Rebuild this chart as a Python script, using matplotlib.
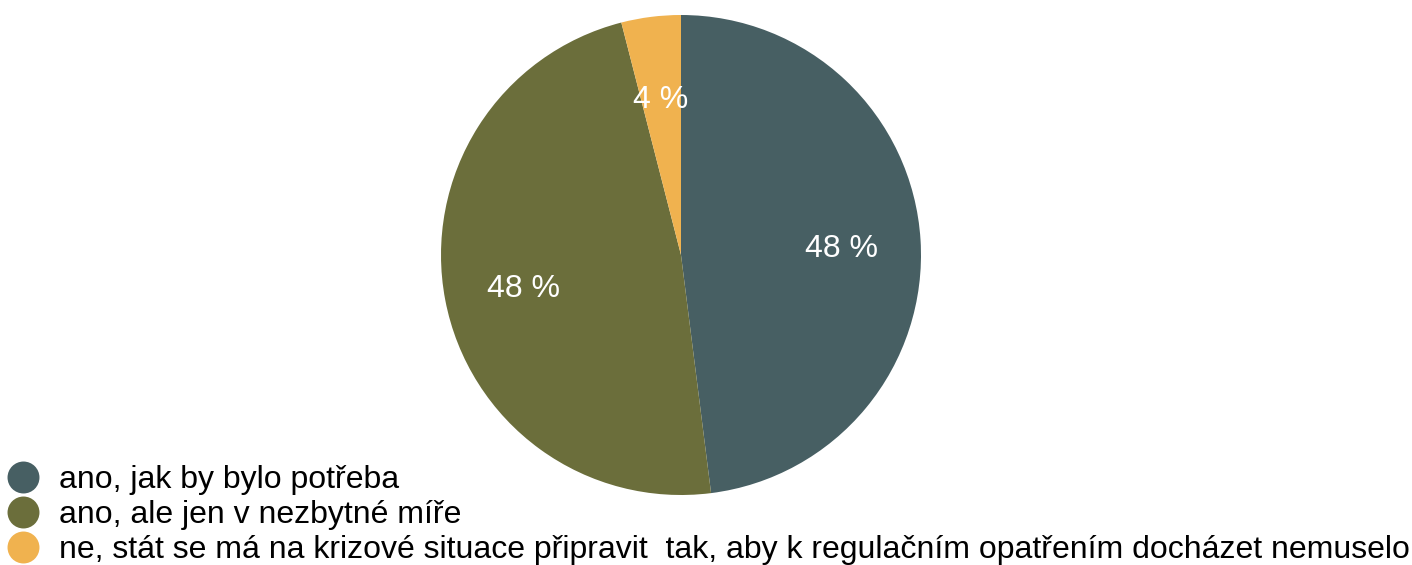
import matplotlib.pyplot as plt
from matplotlib.lines import Line2D

plt.rcParams['font.family'] = ['Liberation Sans', 'DejaVu Sans']

# --- Data ---
labels = ['ano, jak by bylo potřeba',
          'ano, ale jen v nezbytné míře',
          'ne, stát se má na krizové situace připravit  tak, aby k regulačním opatřením docházet nemuselo']
shares = [48, 48, 4]
colors = ['#475F63', '#6B6E3B', '#F0B24F']

W, H = 1412, 565
fig = plt.figure(figsize=(W / 100, H / 100), dpi=100)

# pie centred at (681, 255) px with radius 240 px
cx, cy, r = 681, 255, 240
ax = fig.add_axes([(cx - r) / W, (H - cy - r) / H, 2 * r / W, 2 * r / H])
wedges, texts, autotexts = ax.pie(
    shares, colors=colors, startangle=90, counterclock=False,
    autopct=lambda p: f'{p:.0f} %', pctdistance=0.67,
    wedgeprops=dict(linewidth=0),
    textprops=dict(color='white', fontsize=23))
# nudge the percentage labels down a touch, like the original
for t in autotexts:
    x, y = t.get_position()
    t.set_position((x, y - 0.018))
ax.set_xlim(-1, 1)
ax.set_ylim(-1, 1)
ax.set_aspect('equal')

handles = [Line2D([], [], marker='o', linestyle='none', markersize=23,
                  markerfacecolor=c, markeredgecolor='none') for c in colors]
fig.legend(handles, labels, loc='lower left', bbox_to_anchor=(0.005, 0.0),
           frameon=False, fontsize=23, handletextpad=0.62, labelspacing=0.15,
           handlelength=1.0, borderaxespad=0, borderpad=0.0)

fig.savefig('out.png', dpi=100)
